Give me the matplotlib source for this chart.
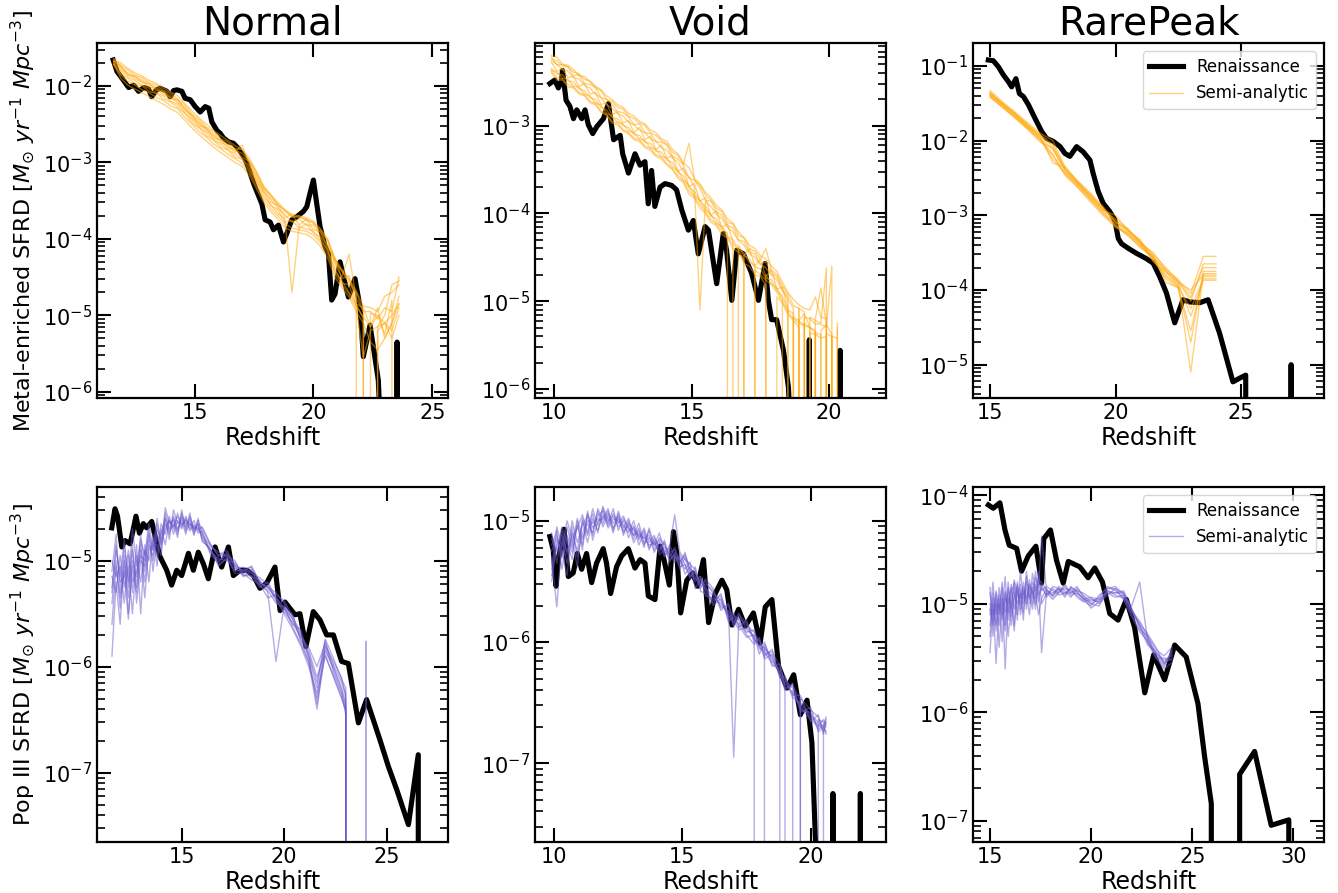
import numpy as np
import matplotlib
matplotlib.use('Agg')
import matplotlib.pyplot as plt
from matplotlib.ticker import MultipleLocator

# All SFRD values are stored as log10; None marks an empty (zero) bin

# ---------------- Normal, metal-enriched ----------------
NORMAL_MET_REN_Z = [11.58, 11.74, 12.0, 12.23, 12.44, 12.65, 12.86, 13.07, 13.2, 13.4, 13.56, 13.84, 13.98, 14.12,
                    14.26, 14.47, 14.6, 14.82, 15.03, 15.24, 15.45, 15.6, 15.73, 15.94, 16.08, 16.22, 16.43, 16.64,
                    16.85, 17.06, 17.2, 17.34, 17.48, 17.62, 17.83, 17.97, 18.18, 18.32, 18.53, 18.74, 18.88, 19.09,
                    19.3, 19.58, 19.72, 19.86, 20.0, 20.14, 20.28, 20.49, 20.63, 20.77, 20.91, 21.12, 21.26, 21.47,
                    21.75, 21.96, 22.1, 22.38, 22.52, 22.73, 22.82, 22.9, 23.49, 23.52, 23.55, 25.0]
NORMAL_MET_REN = [-1.66, -1.81, -1.92, -2.02, -1.99, -2.07, -2.02, -2.04, -2.14, -2.05, -2.03, -2.07, -2.14, -2.06,
                  -2.05, -2.07, -2.16, -2.18, -2.27, -2.34, -2.27, -2.29, -2.47, -2.58, -2.62, -2.68, -2.73, -2.75,
                  -2.82, -2.92, -3.01, -3.14, -3.27, -3.38, -3.54, -3.75, -3.78, -3.88, -3.82, -4.04, -3.93, -3.75,
                  -3.71, -3.64, -3.58, -3.40, -3.23, -3.54, -3.84, -4.10, -4.19, -4.80, -4.72, -4.30, -4.49, -4.76,
                  -4.52, -4.89, -5.54, -5.13, -5.41, -5.85, -6.5, None, None, -5.35, None, None]
NORMAL_MET_SA_Z = [11.6, 11.9, 12.2, 12.5, 12.8, 13.1, 13.4, 13.7, 14.0, 14.3, 14.6, 14.9, 15.2, 15.5, 15.8, 16.1,
                   16.4, 16.7, 17.0, 17.3, 17.6, 17.9, 18.2, 18.5, 18.8, 19.1, 19.4, 19.7, 20.0, 20.3, 20.6, 20.9,
                   21.2, 21.5, 21.8, 22.1, 22.4, 22.7, 23.0, 23.3, 23.6]
NORMAL_MET_SA = [
    [-1.64, -1.73, -1.79, -1.86, -1.89, -1.96, -1.99, -2.06, -2.10, -2.17, -2.25, -2.37, -2.44, -2.54, -2.60, -2.69,
     -2.73, -2.82, -2.83, -2.98, -3.12, -3.34, -3.42, -3.56, -3.62, -3.72, -3.70, -3.76, -3.78, -3.92, -4.02, -4.30,
     -4.42, -4.58, -4.70, -4.95, -4.95, -5.05, -4.90, -4.95, -4.50],
    [-1.72, -1.84, -1.90, -1.97, -2.00, -2.07, -2.10, -2.17, -2.21, -2.28, -2.36, -2.48, -2.55, -2.65, -2.71, -2.80,
     -2.84, -2.93, -2.96, -3.09, -3.25, -3.45, -3.55, -3.67, -3.74, -4.70, -3.84, -3.87, -3.90, -4.02, -4.15, -4.42,
     -4.55, -4.70, -4.85, -5.05, None, -5.20, -5.10, -5.20, -4.90],
    [-1.67, -1.74, -1.86, -1.87, -1.96, -1.97, -2.06, -2.07, -2.17, -2.18, -2.32, -2.38, -2.52, -2.55, -2.68, -2.70,
     -2.81, -2.83, -2.93, -2.99, -3.22, -3.35, -3.52, -3.56, -3.72, -3.68, -3.82, -3.74, -3.88, -3.90, -4.12, -4.25,
     -4.52, -4.48, -4.85, -4.90, -5.15, -5.00, -5.25, -4.80, None],
    [-1.70, -1.86, -1.94, -1.99, -2.05, -2.09, -2.15, -2.19, -2.26, -2.30, -2.41, -2.50, -2.60, -2.67, -2.76, -2.82,
     -2.89, -2.95, -3.01, -3.12, -3.30, -3.48, -3.60, -3.70, -3.80, -3.86, -3.88, -3.90, -3.95, -4.05, -4.20, -4.45,
     -4.60, -4.72, -4.90, -5.55, -5.20, -5.15, -5.10, -5.00, -4.85],
    [-1.66, -1.70, -1.77, -1.83, -1.87, -1.93, -1.97, -2.03, -2.08, -2.13, -2.23, -2.33, -2.42, -2.50, -2.58, -2.65,
     -2.71, -2.78, -2.83, -2.94, -3.12, -3.30, -3.42, -3.52, -3.62, -3.68, -3.70, -3.72, -3.77, -3.87, -4.02, -4.27,
     -4.42, -4.54, -4.72, None, -4.97, -5.00, -5.10, -5.30, -5.00],
    [-1.70, -1.80, -1.88, -1.93, -1.99, -2.03, -2.09, -2.13, -2.20, -2.24, -2.35, -2.44, -2.54, -2.61, -2.70, -2.76,
     -2.83, -2.89, -2.95, -3.05, -3.24, -3.40, -3.56, -3.62, -3.78, -3.76, -3.86, -3.80, -3.92, -3.98, -4.15, -4.38,
     -4.58, -4.60, -4.88, -5.02, -5.15, -4.90, -5.30, -5.10, -4.75],
    [-1.68, -1.78, -1.84, -1.91, -1.94, -2.01, -2.04, -2.11, -2.15, -2.22, -2.30, -2.42, -2.49, -2.59, -2.65, -2.74,
     -2.78, -2.87, -2.77, -3.03, -3.18, -3.38, -3.48, -3.60, -3.68, -3.78, -3.74, -3.82, -3.82, -3.96, -4.08, -4.32,
     -4.50, -4.20, -4.78, -4.95, None, -5.15, -5.00, -4.60, -4.55],
    [-1.72, -1.90, -1.99, -2.04, -2.09, -2.14, -2.19, -2.24, -2.30, -2.35, -2.45, -2.55, -2.64, -2.72, -2.80, -2.87,
     -2.93, -3.00, -3.05, -3.16, -3.34, -3.52, -3.64, -3.74, -3.85, -3.90, -3.92, -3.94, -4.00, -4.10, -4.25, -4.50,
     -4.64, -4.76, -4.95, -5.10, -5.35, -5.45, -5.30, -5.10, -4.85],
    [-1.67, -1.75, -1.83, -1.88, -1.92, -1.98, -2.02, -2.08, -2.13, -2.19, -2.28, -2.39, -2.47, -2.56, -2.63, -2.71,
     -2.76, -2.84, -2.88, -2.98, -3.15, -3.32, -3.45, -3.55, -3.64, -3.70, -3.72, -3.74, -3.80, -3.88, -4.00, -4.25,
     -4.40, -4.52, -4.68, -4.88, -4.90, -4.95, -4.75, -4.70, -4.60],
]

# ---------------- Void, metal-enriched ----------------
VOID_MET_REN_Z = [9.84, 10.02, 10.15, 10.27, 10.3, 10.43, 10.57, 10.70, 10.82, 11.0, 11.12, 11.24, 11.40, 11.55,
                  11.79, 11.97, 12.16, 12.40, 12.49, 12.70, 12.94, 13.12, 13.30, 13.42, 13.54, 13.66, 13.85, 14.03,
                  14.27, 14.45, 14.64, 14.88, 15.06, 15.24, 15.49, 15.61, 15.91, 16.15, 16.27, 16.46, 16.64, 16.88,
                  17.18, 17.43, 17.67, 17.79, 17.91, 18.09, 18.34, 18.52, 18.62, 19.25, 19.28, 19.31, 20.37, 20.40,
                  20.43, 21.49]
VOID_MET_REN = [-2.52, -2.48, -2.57, -2.48, -2.37, -2.71, -2.78, -2.92, -2.82, -2.92, -2.82, -2.99, -3.09, -3.01,
                -2.92, -2.75, -3.16, -3.11, -3.32, -3.54, -3.32, -3.45, -3.41, -3.89, -3.51, -3.92, -3.70, -3.66,
                -3.68, -3.73, -3.96, -4.19, -4.08, -4.46, -4.15, -4.19, -4.80, -4.23, -4.42, -4.99, -4.42, -4.46,
                -4.68, -4.99, -4.57, -4.99, -5.21, -5.21, -5.56, -5.98, -6.6, None, -5.44, None, None, -5.56,
                None, None]
VOID_MET_SA_Z = [9.9, 10.1, 10.3, 10.5, 10.7, 10.9, 11.1, 11.3, 11.5, 11.7, 11.9, 12.1, 12.3, 12.5, 12.7, 12.9,
                 13.1, 13.3, 13.5, 13.7, 13.9, 14.1, 14.3, 14.5, 14.7, 14.9, 15.1, 15.3, 15.5, 15.7, 15.9, 16.1,
                 16.3, 16.5, 16.7, 16.9, 17.1, 17.3, 17.5, 17.7, 17.9, 18.1, 18.3, 18.5, 18.7, 18.9, 19.1, 19.3,
                 19.5, 19.7, 19.9, 20.1, 20.3]
VOID_MET_SA = [
    [-2.22, -2.31, -2.30, -2.33, -2.43, -2.42, -2.52, -2.53, -2.56, -2.68, -2.70, -2.75, -2.84, -2.85, -2.90, -2.99,
     -2.98, -3.08, -3.09, -3.18, -3.19, -3.22, -3.35, -3.38, -3.45, -3.60, -3.62, -3.71, -3.85, -3.86, -3.98, -4.02,
     -4.14, -4.16, -4.30, -4.32, -4.44, -4.46, -4.58, -4.55, -4.68, -4.72, -4.86, -4.95, None, -5.08, -5.12, None,
     -5.20, -4.85, -5.26, None, None],
    [-2.35, -2.41, -2.42, -2.49, -2.50, -2.58, -2.60, -2.68, -2.70, -2.79, -2.82, -2.91, -2.92, -3.00, -3.02, -3.10,
     -3.11, -3.19, -3.20, -3.29, -3.30, -3.39, -3.42, -3.53, -3.57, -3.70, -3.75, -3.86, -3.92, -4.03, -4.06, -4.17,
     -4.22, None, -4.36, -4.48, -4.52, -4.61, -4.63, -4.74, -4.75, -4.88, -4.94, -5.10, -5.14, None, -5.25, -5.30,
     -5.33, None, -5.37, -5.40, None],
    [-2.20, -2.22, -2.30, -2.31, -2.36, -2.43, -2.44, -2.50, -2.57, -2.60, -2.70, -2.72, -2.79, -2.81, -2.89, -2.92,
     -2.97, -3.00, -3.08, -3.11, -3.17, -3.21, -3.30, -3.34, -3.44, -3.20, -3.62, -3.68, -3.79, -3.85, -3.94, -3.98,
     -4.10, -4.12, -4.25, -4.28, -4.40, -4.43, -4.52, -4.40, -4.64, -4.70, -4.82, -4.92, -5.05, -5.08, None, -5.18,
     -5.22, -5.25, -4.62, None, -5.30],
    [-2.38, -2.45, -2.47, -2.53, -2.56, -2.62, -2.65, -2.72, -2.75, -2.83, -2.87, -2.95, -2.97, -3.04, -3.08, -3.14,
     -3.16, -3.23, -3.26, -3.33, -3.36, -3.43, -3.49, -3.57, -3.63, -3.74, -3.81, -3.90, -3.98, -4.07, -4.12, -4.20,
     -4.27, -4.35, -4.42, -4.52, None, -4.64, -4.70, -4.76, -4.81, -4.90, -5.00, -5.12, -5.20, -5.25, -5.28, None,
     -5.36, -5.38, None, -5.40, -5.42],
    [-2.28, -2.38, -2.35, -2.45, -2.44, -2.55, -2.52, -2.64, -2.62, -2.76, -2.74, -2.88, -2.84, -2.97, -2.94, -3.08,
     -3.02, -3.16, -3.12, -3.27, -3.22, -3.37, -3.34, -3.52, -3.48, -3.69, -3.66, -3.86, -3.82, -4.02, -3.97, -4.16,
     -4.12, -4.32, None, -4.48, -4.40, -4.60, -4.52, -4.72, -4.64, -4.86, -4.84, -5.08, None, -5.22, -5.14, -5.30,
     None, -5.34, -5.26, -5.38, None],
    [-2.26, -2.30, -2.36, -2.38, -2.45, -2.47, -2.54, -2.57, -2.64, -2.68, -2.76, -2.80, -2.86, -2.89, -2.96, -2.99,
     -3.05, -3.08, -3.15, -3.18, -3.25, -3.28, -3.37, -3.42, -3.52, -3.58, -3.70, -5.10, -3.86, -3.92, -4.01, -4.06,
     -4.16, -4.21, -4.31, -4.36, -4.46, -4.50, -4.58, -4.62, -4.70, -4.76, -4.88, -4.98, -5.08, None, -5.18, -5.20,
     -5.26, -5.26, -5.30, -4.60, None],
    [-2.37, -2.39, -2.46, -2.47, -2.55, -2.56, -2.64, -2.66, -2.74, -2.77, -2.86, -2.89, -2.96, -2.98, -3.06, -3.08,
     -3.15, -3.17, -3.25, -3.27, -3.35, -3.37, -3.47, -3.51, -3.62, -3.68, -3.80, -3.85, -3.96, -4.01, -4.11, -4.15,
     -4.26, -4.30, -4.41, -4.45, -4.56, -4.59, None, -4.70, -4.80, -4.85, -4.98, None, -5.18, -5.22, -5.28, -5.30,
     -5.36, None, None, None, None],
    [-2.24, -2.26, -2.32, -2.33, -2.39, -2.41, -2.47, -2.49, -2.55, -2.59, -2.66, -2.70, -2.76, -2.79, -2.86, -2.89,
     -2.95, -2.98, -3.05, -3.08, -3.15, -3.18, -3.27, -3.32, -3.42, -3.48, -3.60, -3.66, -3.76, -3.82, -3.91, -3.96,
     -4.06, -4.11, -4.21, -4.27, -4.36, -4.40, -4.48, -4.52, -4.60, -4.66, -4.78, -4.90, -4.98, -5.04, -5.08, -5.10,
     -4.95, -5.18, -5.20, None, -5.25],
    [-2.40, -2.48, -2.48, -2.56, -2.57, -2.64, -2.66, -2.74, -2.76, -2.85, -2.88, -2.97, -2.99, -3.06, -3.09, -3.16,
     -3.18, -3.25, -3.28, -3.35, -3.38, -3.45, -3.50, -3.60, -3.65, -3.78, -3.83, -3.94, -4.00, -4.10, -4.14, -4.24,
     -4.28, -4.40, -4.44, -4.57, -4.60, -4.70, -4.72, -4.82, None, -4.95, -5.02, -5.15, -5.22, -5.30, None, -5.36,
     -5.38, -5.42, -5.40, None, None],
]

# ---------------- RarePeak, metal-enriched ----------------
RARE_MET_REN_Z = [14.93, 15.13, 15.33, 15.53, 15.73, 15.86, 16.03, 16.17, 16.33, 16.53, 16.79, 17.06, 17.25, 17.52,
                  17.79, 17.98, 18.18, 18.45, 18.71, 18.98, 19.11, 19.31, 19.51, 19.77, 19.97, 20.11, 20.24, 20.50,
                  20.84, 21.23, 21.50, 21.76, 22.03, 22.36, 22.69, 22.96, 23.36, 23.69, 24.15, 24.68, 24.95, 25.19,
                  25.22, 26.97, 27.0, 27.03, 27.65]
RARE_MET_REN = [-0.92, -0.93, -1.01, -1.12, -1.21, -1.28, -1.17, -1.37, -1.41, -1.52, -1.70, -1.88, -1.97, -2.01,
                -2.08, -2.17, -2.21, -2.08, -2.15, -2.26, -2.44, -2.68, -2.84, -2.95, -3.06, -3.31, -3.38, -3.44,
                -3.51, -3.58, -3.64, -3.82, -4.04, -4.44, -4.13, -4.16, -4.17, -4.13, -4.58, -5.23, -5.18, -5.14,
                None, None, -5.0, None, None]
RARE_MET_SA_Z = [15.0, 15.5, 16.0, 16.5, 17.0, 17.5, 18.0, 18.5, 19.0, 19.5, 20.0, 20.5, 21.0, 21.5, 22.0, 22.5,
                 23.0, 23.5, 24.0]
RARE_MET_SA = [
    [-1.35, -1.50, -1.63, -1.78, -1.92, -2.05, -2.38, -2.55, -2.72, -2.90, -3.08, -3.20, -3.35, -3.55, -3.75, -3.90,
     -4.00, -3.80, -3.80],
    [-1.40, -1.54, -1.68, -1.83, -2.00, -2.20, -2.45, -2.62, -2.80, -2.96, -3.15, -3.25, -3.40, -3.60, -3.82, -3.95,
     -4.25, -3.85, -3.85],
    [-1.37, -1.51, -1.65, -1.79, -1.94, -2.30, -2.35, -2.56, -2.74, -2.92, -3.05, -3.18, -3.36, -3.52, -3.70, -3.88,
     -4.10, -3.70, -3.70],
    [-1.42, -1.55, -1.70, -1.85, -2.02, -2.10, -2.42, -2.60, -2.78, -2.98, -3.12, -3.28, -3.42, -3.58, -3.85, -3.98,
     -4.55, -3.82, -3.82],
    [-1.33, -1.48, -1.62, -1.76, -1.90, -2.00, -2.36, -2.54, -2.70, -2.88, -3.10, -3.22, -3.37, -3.50, -3.72, -3.86,
     -4.05, -3.55, -3.55],
    [-1.39, -1.53, -1.67, -1.81, -1.97, -2.25, -2.44, -2.59, -2.77, -2.94, -3.14, -3.24, -3.39, -3.57, -3.80, -3.94,
     -5.10, -3.78, -3.78],
    [-1.36, -1.52, -1.64, -1.80, -1.96, -2.12, -2.40, -2.57, -2.76, -2.93, -3.00, -3.21, -3.33, -3.62, -3.76, -3.92,
     -4.35, -3.87, -3.87],
    [-1.41, -1.56, -1.69, -1.84, -1.98, -2.18, -2.47, -2.63, -2.82, -3.00, -3.16, -3.26, -3.44, -3.54, -3.90, -3.96,
     -4.70, -3.75, -3.75],
    [-1.38, -1.50, -1.66, -1.82, -1.93, -2.08, -2.39, -2.58, -2.73, -2.91, -3.09, -3.19, -3.38, -3.56, -3.74, -3.89,
     -4.15, -3.65, -3.65],
]

# ---------------- Normal, Pop III ----------------
NORMAL_P3_REN_Z = [11.59, 11.75, 11.87, 12.08, 12.24, 12.48, 12.61, 12.77, 12.94, 13.13, 13.29, 13.54, 13.75, 13.94,
                   14.27, 14.51, 14.76, 15.0, 15.33, 15.57, 15.81, 16.06, 16.30, 16.63, 16.95, 17.28, 17.52, 17.85,
                   18.17, 18.5, 18.82, 19.15, 19.55, 19.80, 20.04, 20.28, 20.53, 20.77, 21.06, 21.42, 21.75, 22.07,
                   22.40, 22.80, 23.13, 23.62, 24.02, 24.67, 25.08, 25.49, 26.06, 26.54, 26.58, 27.15]
NORMAL_P3_REN = [-4.69, -4.51, -4.58, -4.87, -4.81, -4.84, -4.73, -4.58, -4.74, -4.65, -4.69, -4.63, -4.81, -4.96,
                 -5.09, -5.23, -5.09, -5.14, -4.93, -5.09, -4.92, -5.03, -5.17, -4.87, -5.06, -4.87, -5.14, -5.09,
                 -5.09, -5.14, -5.26, -5.21, -5.06, -5.47, -5.39, -5.45, -5.51, -5.50, -5.81, -5.48, -5.56, -5.70,
                 -5.70, -5.95, -5.97, -6.53, -6.31, -6.69, -6.94, -7.16, -7.49, -6.83, None, None]
NORMAL_P3_SA_Z = [11.6, 11.8, 12.0, 12.2, 12.4, 12.6, 12.8, 13.0, 13.2, 13.4, 13.6, 13.8, 14.0, 14.2, 14.4, 14.6,
                  14.8, 15.0, 15.2, 15.4, 15.6, 15.8, 16.0, 16.4, 16.8, 17.2, 17.6, 18.0, 18.4, 18.8, 19.2, 19.6,
                  20.0, 20.4, 20.8, 21.2, 21.6, 22.0, 22.4, 22.8, 23.0, 23.1, 23.9, 24.0, 24.1]
NORMAL_P3_SA = [
    [-5.10, -4.75, -5.30, -4.85, -5.20, -4.70, -5.05, -4.80, -4.95, -4.65, -4.90, -4.60, -4.85, -4.55, -4.70, -4.60,
     -4.75, -4.55, -4.68, -4.60, -4.72, -4.65, -4.70, -4.85, -4.95, -4.90, -5.05, -5.10, -5.05, -5.20, -5.25, -5.30,
     -5.40, -5.55, -5.70, -5.85, -6.10, -5.85, -6.00, -6.20, -6.35, None, None, None, None],
    [-5.40, -5.00, -5.45, -5.00, -5.35, -4.90, -5.25, -4.75, -5.10, -4.80, -5.00, -4.70, -4.80, -4.65, -4.75, -4.58,
     -4.70, -4.62, -4.75, -4.58, -4.70, -4.68, -4.78, -4.90, -5.00, -4.95, -5.00, -5.15, -5.10, -5.25, -5.20, -5.35,
     -5.45, -5.50, -5.75, -5.95, -6.30, -5.80, -5.95, -6.10, -6.30, None, None, None, None],
    [-5.90, -5.20, -5.60, -4.95, -5.50, -5.05, -5.30, -4.90, -5.35, -4.85, -4.95, -4.75, -4.90, -4.50, -4.65, -4.62,
     -4.72, -4.58, -4.65, -4.63, -4.76, -4.62, -4.82, -4.88, -5.05, -4.98, -5.10, -5.08, -5.15, -5.18, -5.30, -5.95,
     -5.42, -5.60, -5.65, -5.90, -6.20, -5.75, -6.05, -6.25, -6.45, None, None, None, None],
    [-5.00, -5.15, -5.05, -5.40, -4.95, -5.30, -4.85, -5.50, -4.85, -5.20, -4.75, -5.05, -4.70, -4.85, -4.62, -4.70,
     -4.55, -4.68, -4.60, -4.72, -4.66, -4.74, -4.72, -4.92, -4.98, -5.00, -5.02, -5.12, -5.08, -5.22, -5.35, -5.32,
     -5.38, -5.52, -5.68, -5.92, -6.35, -5.88, -6.10, -6.30, -6.40, None, None, None, None],
    [-5.25, -4.90, -5.15, -4.80, -5.25, -4.85, -5.40, -5.00, -5.05, -4.70, -5.10, -4.80, -4.75, -4.60, -4.80, -4.52,
     -4.65, -4.60, -4.70, -4.55, -4.75, -4.60, -4.76, -4.86, -4.92, -4.96, -5.08, -5.06, -5.12, -5.16, -5.22, -5.38,
     -5.48, -5.58, -5.72, -5.82, -6.00, -5.78, -5.98, -6.15, -6.25, None, None, -5.76, None],
    [-5.60, -5.05, -5.35, -5.10, -5.55, -5.00, -5.15, -4.85, -5.20, -4.90, -4.85, -4.85, -4.95, -4.60, -4.72, -4.65,
     -4.78, -4.52, -4.72, -4.65, -4.68, -4.70, -4.74, -4.94, -5.02, -4.92, -5.06, -5.14, -5.14, -5.24, -5.28, -5.40,
     -5.44, -5.62, -5.78, -5.96, -6.40, -5.82, -6.02, -6.22, -6.38, None, None, None, None],
    [-5.15, -5.30, -4.95, -5.25, -5.05, -5.50, -4.95, -5.20, -4.90, -5.00, -4.80, -4.95, -4.65, -4.75, -4.58, -4.75,
     -4.62, -4.70, -4.58, -4.70, -4.62, -4.72, -4.68, -4.84, -4.96, -4.94, -5.04, -5.10, -5.06, -5.20, -5.26, -5.34,
     -5.46, -5.54, -5.74, -5.88, -6.15, -5.74, -5.92, -6.12, -6.20, None, None, None, None],
    [-5.30, -4.85, -5.20, -5.15, -4.90, -5.20, -5.10, -4.95, -5.00, -4.75, -4.90, -4.65, -4.85, -4.70, -4.62, -4.68,
     -4.58, -4.66, -4.62, -4.66, -4.70, -4.66, -4.80, -4.90, -5.04, -4.97, -5.12, -5.12, -5.18, -5.22, -5.24, -5.36,
     -5.50, -5.64, -5.80, -6.00, -6.25, -5.90, -6.08, -6.28, -6.42, None, None, None, None],
]

# ---------------- Void, Pop III ----------------
VOID_P3_REN_Z = [9.83, 9.96, 10.07, 10.16, 10.29, 10.38, 10.55, 10.74, 10.9, 11.07, 11.26, 11.46, 11.65, 11.91,
                 12.04, 12.2, 12.43, 12.63, 12.89, 13.15, 13.35, 13.54, 13.67, 13.93, 14.13, 14.28, 14.49, 14.65,
                 14.78, 14.93, 15.17, 15.40, 15.59, 15.82, 16.02, 16.28, 16.54, 16.73, 16.93, 17.19, 17.45, 17.77,
                 18.03, 18.23, 18.49, 18.75, 19.08, 19.34, 19.60, 19.86, 20.05, 20.25, 20.3, 20.84, 20.87, 20.9,
                 21.91, 21.94, 21.97, 22.3]
VOID_P3_REN = [-5.13, -5.24, -5.54, -5.32, -5.18, -5.07, -5.46, -5.43, -5.27, -5.40, -5.27, -5.51, -5.35, -5.23,
               -5.35, -5.60, -5.38, -5.29, -5.23, -5.39, -5.32, -5.35, -5.62, -5.65, -5.21, -5.32, -5.53, -5.09,
               -5.27, -5.76, -5.49, -5.43, -5.54, -5.32, -5.84, -5.60, -5.49, -5.57, -5.86, -5.73, -5.87, -5.76,
               -6.01, -5.71, -5.65, -6.20, -6.38, -6.27, -6.60, -6.48, -6.83, -8.0, None, None, -7.25, None,
               None, -7.25, None, None]
VOID_P3_SA_Z = [9.9, 10.1, 10.3, 10.5, 10.7, 10.9, 11.1, 11.3, 11.5, 11.7, 11.9, 12.1, 12.3, 12.5, 12.7, 12.9,
                13.1, 13.3, 13.5, 13.7, 13.9, 14.1, 14.3, 14.5, 14.7, 14.9, 15.1, 15.3, 15.5, 15.7, 15.9, 16.2,
                16.5, 16.8, 17.0, 17.2, 17.5, 17.8, 18.0, 18.2, 18.5, 18.8, 19.0, 19.3, 19.6, 20.0, 20.3, 20.5,
                20.6]
VOID_P3_SA = [
    [-5.25, -5.12, -5.30, -5.05, -5.22, -4.98, -5.15, -5.02, -5.10, -4.92, -5.05, -4.96, -5.10, -4.94, -5.12, -5.00,
     -5.15, -5.06, -5.20, -5.08, -5.24, -5.14, -5.20, -5.30, -5.22, -5.34, -5.28, -5.40, -5.44, -5.50, -5.56, -5.62,
     -5.70, -5.74, -5.86, -5.80, -5.86, -5.92, -6.00, -6.06, -6.12, -6.28, -6.34, -6.42, -6.52, -6.62, -6.68, -6.72,
     None],
    [-5.40, -5.05, -5.22, -5.00, -5.15, -5.06, -4.95, -5.10, -4.90, -5.04, -4.88, -5.00, -4.96, -5.05, -5.00, -5.14,
     -5.04, -5.20, -5.10, -5.22, -5.16, -5.28, -5.24, -5.32, -5.28, -5.38, -5.36, -5.46, -5.42, -5.52, -5.50, -5.60,
     -5.66, -5.78, -5.84, -5.76, -5.90, -5.95, None, -6.02, -6.14, -6.26, -6.30, -6.46, -6.50, -6.60, -6.66, -6.70,
     -6.74],
    [-5.10, -5.35, -5.08, -5.28, -5.00, -5.18, -5.04, -4.96, -5.12, -4.90, -5.00, -4.92, -5.06, -4.98, -5.04, -5.10,
     -5.00, -5.16, -5.06, -5.18, -5.12, -5.24, -5.18, -5.28, -5.34, -5.30, -5.44, -5.38, -5.50, -5.46, -5.58, -5.66,
     -5.62, -5.80, -5.76, -5.88, -5.82, -6.00, -5.98, -6.10, -6.08, -6.20, -6.38, -6.36, -6.48, None, -6.64, -6.66,
     -6.70],
    [-5.30, -5.71, -5.15, -5.35, -5.10, -5.25, -5.00, -5.18, -4.98, -5.08, -4.95, -5.02, -4.90, -5.08, -4.98, -5.06,
     -5.12, -5.02, -5.18, -5.14, -5.20, -5.10, -5.26, -5.22, -4.95, -5.26, -5.32, -5.36, -5.40, -5.54, -5.52, -5.58,
     -5.72, -5.70, -5.82, -5.90, -5.88, -5.96, -6.04, -6.08, -6.18, -6.24, None, -6.40, -6.56, -6.58, -6.72, -6.68,
     -6.76],
    [-5.20, -5.08, -5.40, -5.12, -5.26, -5.04, -5.20, -4.94, -5.06, -4.96, -4.92, -5.06, -4.98, -5.00, -5.08, -5.04,
     -5.18, -5.10, -5.14, -5.20, -5.18, -5.26, -5.16, -5.34, -5.26, -5.40, -5.30, -5.44, -5.48, -5.46, -5.62, -5.64,
     -5.68, -5.76, -6.95, -5.84, -5.92, -5.90, -6.06, -6.04, -6.16, -6.22, -6.32, -6.38, -6.54, -6.64, -6.70, -6.64,
     -6.68],
    [-5.45, -5.15, -5.25, -5.45, -5.05, -5.30, -5.10, -5.00, -5.02, -4.98, -5.02, -4.94, -5.02, -4.96, -5.10, -5.02,
     -5.08, -5.12, -5.14, -5.12, -5.26, -5.18, -5.30, -5.20, -5.30, -5.32, -5.40, -5.34, -5.56, -5.48, -5.54, -5.70,
     -5.64, -5.82, -5.80, -5.86, -5.96, -5.94, -6.10, -6.00, -6.20, -6.18, -6.36, None, -6.46, -6.56, -6.62, -6.74,
     -6.66],
    [-5.15, -5.25, -5.05, -5.18, -5.32, -5.00, -5.24, -4.92, -5.16, -5.00, -4.98, -4.90, -5.08, -4.92, -5.06, -4.98,
     -5.12, -5.08, -5.22, -5.06, -5.20, -5.16, -5.28, -5.26, -5.24, -5.36, -5.26, -5.42, -5.46, -5.56, -5.48, -5.56,
     -5.74, -5.68, -5.88, -5.78, -5.84, -5.98, -6.02, -6.12, -6.06, -6.30, -6.28, -6.44, -6.44, -6.66, -6.60, -6.76,
     -6.64],
    [-5.50, -5.20, -5.12, -5.25, -5.15, -5.38, -4.98, -5.12, -4.94, -5.10, -4.90, -5.04, -4.94, -5.02, -4.96, -5.08,
     -5.06, -5.14, -5.08, -5.24, -5.14, -5.22, -5.22, -5.26, -5.32, -5.28, -5.36, -5.48, -5.38, -5.58, -5.60, -5.68,
     -5.60, -5.84, -5.78, -5.82, -5.94, -6.02, -5.96, -6.14, -6.10, -6.26, -6.40, -6.34, -6.58, -6.54, -6.74, -6.70,
     -6.62],
]

# ---------------- RarePeak, Pop III ----------------
RARE_P3_REN_Z = [14.92, 15.16, 15.49, 15.74, 15.95, 16.32, 16.56, 16.89, 17.27, 17.55, 17.66, 17.99, 18.29, 18.62,
                 18.87, 19.44, 19.85, 20.18, 20.56, 20.92, 21.33, 21.74, 22.15, 22.65, 23.09, 23.63, 24.13, 24.70,
                 25.28, 25.61, 25.94, 25.99, 27.3, 27.34, 28.08, 28.9, 29.77, 29.8, 30.69]
RARE_P3_REN = [-4.09, -4.12, -4.07, -4.32, -4.46, -4.49, -4.70, -4.56, -4.47, -4.81, -4.40, -4.32, -4.60, -4.81,
               -4.61, -4.66, -4.76, -4.67, -4.80, -5.09, -5.15, -4.96, -5.22, -5.82, -5.47, -5.70, -5.38, -5.49,
               -5.92, -6.41, -6.84, None, None, -6.57, -6.36, -7.04, -6.99, None, None]
RARE_P3_SA_Z = [15.0, 15.15, 15.3, 15.45, 15.6, 15.75, 15.9, 16.05, 16.2, 16.35, 16.5, 16.65, 16.8, 16.95, 17.1,
                17.25, 17.4, 17.55, 17.8, 18.1, 18.4, 18.7, 19.0, 19.3, 19.6, 20.0, 20.4, 20.8, 21.2, 21.6, 22.0,
                22.4, 22.8, 23.2, 23.6, 24.0]
RARE_P3_SA = [
    [-5.10, -4.80, -5.25, -4.85, -5.05, -4.75, -5.15, -4.90, -4.80, -5.10, -4.70, -4.95, -4.75, -5.00, -4.72, -4.88,
     -4.78, -4.80, -4.88, -4.90, -4.86, -4.92, -4.85, -4.88, -4.90, -4.95, -5.00, -4.92, -4.86, -4.90, -5.05, -5.20,
     -5.32, -5.45, -5.52, -5.48],
    [-4.85, -5.30, -4.95, -5.10, -4.80, -5.20, -4.90, -5.05, -4.78, -4.92, -5.00, -4.80, -5.05, -4.78, -4.95, -4.70,
     -4.92, -4.85, -4.92, -4.86, -4.90, -4.84, -4.92, -4.90, -4.95, -5.00, -4.96, -4.88, -4.92, -4.95, -5.08, -5.18,
     -5.28, -5.40, -5.55, -5.50],
    [-5.45, -5.00, -5.20, -4.95, -5.35, -4.88, -5.08, -4.82, -5.20, -4.85, -4.88, -5.08, -4.80, -4.88, -5.00, -4.76,
     -4.85, -4.38, -4.90, -4.92, -4.84, -4.88, -4.94, -4.86, -4.92, -4.98, -4.94, -4.84, -4.88, -4.94, -5.02, -4.80,
     -5.35, -5.48, -5.58, -5.42],
    [-5.00, -5.15, -4.90, -5.40, -5.00, -5.25, -4.80, -5.12, -4.95, -4.82, -5.05, -4.88, -4.90, -5.10, -4.80, -4.90,
     -5.10, -4.95, -4.86, -4.94, -4.88, -4.86, -4.88, -4.92, -4.97, -5.02, -4.92, -4.86, -4.84, -4.92, -5.10, -5.24,
     -5.30, -5.50, -5.50, -5.52],
    [-5.20, -4.95, -5.55, -5.00, -5.10, -4.90, -5.30, -5.00, -4.85, -5.15, -4.82, -5.00, -4.85, -4.95, -4.85, -5.05,
     -4.75, -4.88, -4.84, -4.88, -4.92, -4.90, -4.86, -4.94, -4.98, -4.96, -4.98, -4.90, -4.90, -4.88, -5.04, -5.22,
     -5.38, -5.44, -5.54, -5.46],
    [-4.90, -5.10, -5.00, -5.20, -4.85, -5.60, -4.95, -5.20, -4.90, -5.00, -4.90, -5.15, -4.70, -4.92, -5.05, -4.82,
     -4.98, -4.82, -4.94, -4.84, -4.86, -4.90, -4.90, -4.84, -4.93, -5.00, -5.02, -4.86, -4.86, -4.96, -5.12, -5.26,
     -5.34, -5.46, -5.56, -5.44],
    [-5.30, -4.90, -5.10, -4.92, -5.15, -4.95, -5.00, -4.85, -5.05, -4.88, -4.95, -4.85, -5.00, -4.82, -4.90, -4.95,
     -4.70, -5.00, -4.90, -4.96, -4.90, -4.82, -4.90, -4.88, -4.96, -4.94, -4.96, -4.88, -4.90, -4.90, -5.06, -5.16,
     -5.30, -5.42, -5.48, -5.40],
    [-5.05, -5.20, -4.88, -5.05, -4.95, -5.08, -4.85, -5.00, -5.25, -4.80, -5.10, -4.90, -4.95, -4.85, -4.88, -5.00,
     -4.82, -5.45, -4.88, -4.92, -4.86, -4.94, -4.84, -4.90, -4.94, -5.04, -4.98, -4.90, -4.94, -4.92, -5.06, -5.20,
     -5.36, -5.50, -5.60, -5.54],
]

TITLES = ['Normal', 'Void', 'RarePeak']
METAL_COLOR = 'orange'
POP3_COLOR = 'slateblue'


def sfrd(logs):
    """log10 values -> SFRD; empty bins become 0 (clipped on the log axis)"""
    return np.array([0.0 if v is None else 10.0 ** v for v in logs])


def draw_panel(ax, ren_z, ren, sa_z, sa_lines, color, xlim, ylim):
    ax.plot(ren_z, sfrd(ren), color='k', lw=3.7, label='Renaissance')
    for i, line in enumerate(sa_lines):
        ax.plot(sa_z, sfrd(line), color=color, lw=1, alpha=0.5,
                label='Semi-analytic' if i == 0 else '_nolegend_')
    ax.set_yscale('log', nonpositive='clip')
    ax.set_xlim(*xlim)
    ax.set_ylim(*ylim)
    ax.xaxis.set_major_locator(MultipleLocator(5))
    ax.tick_params(which='both', direction='in', top=True, right=True, labelsize=15)
    ax.tick_params(which='major', length=10, width=1.5)
    ax.tick_params(which='minor', length=6, width=1.2)
    for sp in ax.spines.values():
        sp.set_linewidth(1.6)
    ax.set_xlabel('Redshift', fontsize=17, labelpad=2)


def main():
    fig = plt.figure(figsize=(13.38, 8.93), dpi=100)
    W, H = 1338.0, 893.0
    lefts = [97, 535, 973]
    tops = [43, 487]
    aw, ah = 351, 355

    axes = [[fig.add_axes([l / W, 1 - (t + ah) / H, aw / W, ah / H]) for l in lefts] for t in tops]

    top = [(NORMAL_MET_REN_Z, NORMAL_MET_REN, NORMAL_MET_SA_Z, NORMAL_MET_SA, (10.9, 25.66), (8.3e-7, 3.65e-2)),
           (VOID_MET_REN_Z, VOID_MET_REN, VOID_MET_SA_Z, VOID_MET_SA, (9.30, 22.07), (7.9e-7, 8.75e-3)),
           (RARE_MET_REN_Z, RARE_MET_REN, RARE_MET_SA_Z, RARE_MET_SA, (14.32, 28.31), (3.58e-6, 0.203))]
    bottom = [(NORMAL_P3_REN_Z, NORMAL_P3_REN, NORMAL_P3_SA_Z, NORMAL_P3_SA, (10.87, 27.99), (2.22e-8, 4.96e-5)),
              (VOID_P3_REN_Z, VOID_P3_REN, VOID_P3_SA_Z, VOID_P3_SA, (9.25, 22.94), (2.24e-8, 1.9e-5)),
              (RARE_P3_REN_Z, RARE_P3_REN, RARE_P3_SA_Z, RARE_P3_SA, (14.16, 31.51), (6.4e-8, 1.19e-4))]

    for j, (rz, r, sz, sa, xl, yl) in enumerate(top):
        draw_panel(axes[0][j], rz, r, sz, sa, METAL_COLOR, xl, yl)
        axes[0][j].set_title(TITLES[j], fontsize=28)
    for j, (rz, r, sz, sa, xl, yl) in enumerate(bottom):
        draw_panel(axes[1][j], rz, r, sz, sa, POP3_COLOR, xl, yl)

    axes[0][0].set_ylabel(r'Metal-enriched SFRD [$M_{\odot}\ yr^{-1}\ Mpc^{-3}$]', fontsize=16)
    axes[1][0].set_ylabel(r'Pop III SFRD [$M_{\odot}\ yr^{-1}\ Mpc^{-3}$]', fontsize=16)
    axes[0][2].legend(loc='upper right', fontsize=12)
    axes[1][2].legend(loc='upper right', fontsize=12)

    fig.savefig('out.png', dpi=100)


if __name__ == '__main__':
    main()
